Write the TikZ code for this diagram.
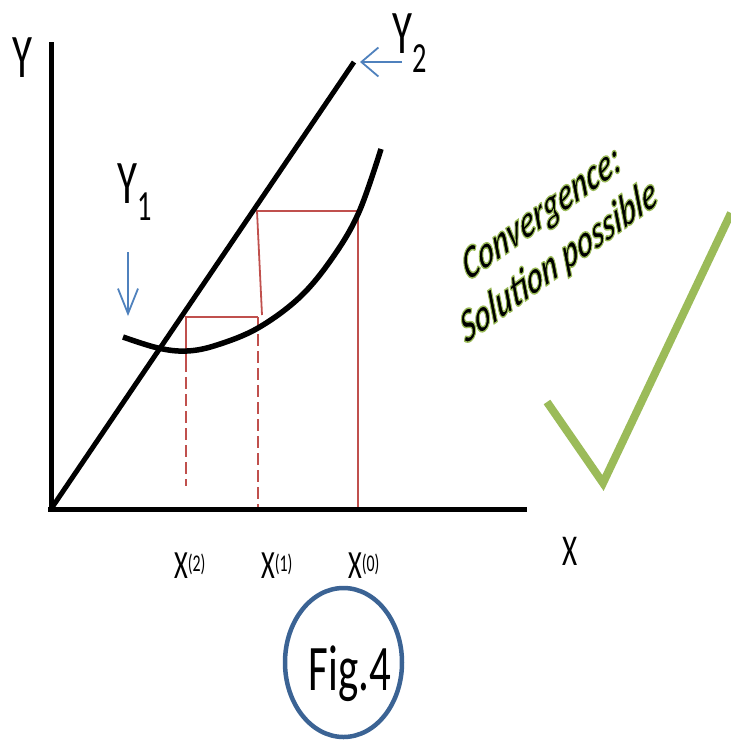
\documentclass[tikz,border=0pt]{standalone}
\usepackage{fontspec}
\setmainfont{Carlito}
\usepackage{graphicx}
\usetikzlibrary{arrows.meta}
\definecolor{redl}{HTML}{C0504D}
\definecolor{bluea}{HTML}{4F81BD}
\definecolor{blueo}{HTML}{3B6394}
\definecolor{greenc}{HTML}{9BBB59}
\newcommand{\cond}[1]{\scalebox{0.66}[1]{#1}}
\newcommand{\fs}[1]{\fontsize{#1}{#1}\selectfont}
\newcommand{\rimtext}[1]{\special{pdf:literal direct 2 Tr 1.5 w 0.608 0.733 0.349 RG}#1\special{pdf:literal direct 0 Tr}}
\begin{document}
\begin{tikzpicture}[x=1pt,y=-1pt,
  axisline/.style={line width=5pt},
  redline/.style={draw=redl,line width=1.8pt},
  reddash/.style={redline,dash pattern=on 12pt off 5pt},
  bluearrow/.style={draw=bluea,line width=1.8pt},
  lab/.style={inner sep=0pt,anchor=base},
  convtext/.style={inner sep=0pt,transform shape,text=black,font=\fs{49}\bfseries\itshape}]
\useasboundingbox (0,0) rectangle (731,742);

% coordinates
\coordinate (O) at (51,509);
\coordinate (ytop) at (51,42);
\coordinate (xend) at (527,509);
\coordinate (dtop) at (354,62);

% red construction lines
\draw[redline] (358,509) -- (358,211) -- (257,211) -- (262,315);
\draw[redline] (258,317) -- (186,317) -- (186,360);
\draw[reddash] (186,360) -- (186,486);
\draw[reddash] (258,317) -- (258,509);

% axes
\draw[axisline] (ytop) -- (51,512);
\draw[axisline] (48,509) -- (xend);
\draw[axisline] (O) -- (dtop);

% curve Y1
\draw[line width=5.5pt] plot[smooth,tension=0.6] coordinates
  {(123,337) (158,348) (187,351) (217,345) (258,328) (300,297) (333,257) (359,212) (381,149)};

% blue arrows
\coordinate (a2s) at (402,62);
\coordinate (a2e) at (360,62);
\draw[bluearrow,-{Straight Barb[length=17pt,width=29pt]}] (a2s) -- (a2e);
\coordinate (a1s) at (128,252);
\coordinate (a1e) at (128,316);
\draw[bluearrow,-{Straight Barb[length=25pt,width=20pt]}] (a1s) -- (a1e);

% labels
\node[lab] (Ylab) at (22,77) {\fs{62}\cond{Y}};
\node[lab,anchor=base west] (Y2lab) at (392,53) {\fs{62}\cond{Y\raisebox{-19pt}{\fs{43}2}}};
\node[lab,anchor=base west] (Y1lab) at (117,203) {\fs{62}\cond{Y\raisebox{-17pt}{\fs{43}1}}};
\node[lab] (Xlab) at (570,565) {\fs{44}\cond{X}};
\node[lab,anchor=base west] (x2) at (174,578) {\fs{40}\cond{X\raisebox{7pt}{\fs{24}(2)}}};
\node[lab,anchor=base west] (x1) at (261,578) {\fs{40}\cond{X\raisebox{7pt}{\fs{24}(1)}}};
\node[lab,anchor=base west] (x0) at (348,578) {\fs{40}\cond{X\raisebox{7pt}{\fs{24}(0)}}};

% Fig.4
\draw[draw=blueo,line width=4.5pt] (343.5,662.5) ellipse [x radius=58.5pt, y radius=74.5pt];
\node[lab] (fig) at (350,690) {\fs{65}\cond{Fig.4}};

% check mark
\draw[greenc,line width=8pt,line join=miter] (547,402) -- (603,483) -- (731,213);

% convergence text (rotated, then squeezed horizontally)
\begin{scope}[shift={(542,215)},xscale=0.62,rotate=24.25]
  \node[convtext] (conv) at (0,0) {\rimtext{Convergence:}};
\end{scope}
\begin{scope}[shift={(559,262)},xscale=0.62,rotate=24.25]
  \node[convtext] (sol) at (0,0) {\rimtext{Solution possible}};
\end{scope}
\end{tikzpicture}
\end{document}
